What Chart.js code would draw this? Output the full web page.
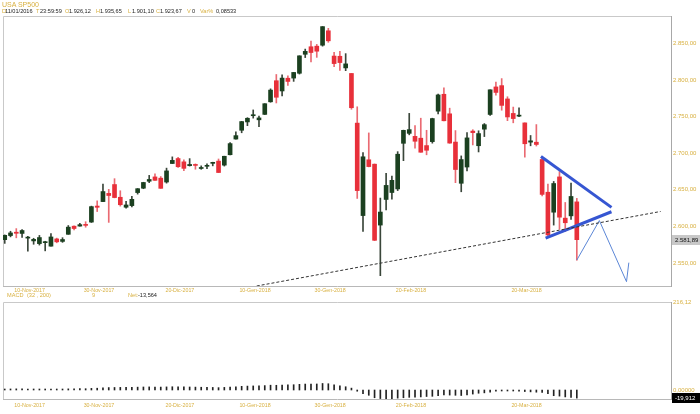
<!DOCTYPE html>
<html><head><meta charset="utf-8">
<script src="https://cdn.jsdelivr.net/npm/chart.js@4.4.1/dist/chart.umd.min.js"></script>
<style>
html,body{margin:0;padding:0;background:#fff;width:700px;height:414px;overflow:hidden;font-family:"Liberation Sans",Arial,sans-serif;}
#w1{position:absolute;left:0;top:0;width:700px;height:300px;}
#w2{position:absolute;left:0;top:296px;width:700px;height:118px;}
.t{position:absolute;white-space:nowrap;font-size:5.6px;line-height:1;}
.g{color:#d8b040}.k{color:#222}
</style></head><body>
<div id="w1"><canvas id="c1" width="700" height="300"></canvas></div>
<div id="w2"><canvas id="c2" width="700" height="118"></canvas></div>
<div class="t g" style="left:2px;top:1px;font-size:7px">USA SP500</div>
<div class="t g" style="left:2px;top:9px">D</div><div class="t k" style="left:5px;top:9px">11/01/2016</div>
<div class="t g" style="left:36px;top:9px">T</div><div class="t k" style="left:40px;top:9px">23:59:59</div>
<div class="t g" style="left:65px;top:9px">O</div><div class="t k" style="left:69px;top:9px">1.926,12</div>
<div class="t g" style="left:96px;top:9px">H</div><div class="t k" style="left:100px;top:9px">1.935,65</div>
<div class="t g" style="left:128px;top:9px">L</div><div class="t k" style="left:132px;top:9px">1.901,10</div>
<div class="t g" style="left:156px;top:9px">C</div><div class="t k" style="left:160px;top:9px">1.923,67</div>
<div class="t g" style="left:187px;top:9px">V</div><div class="t k" style="left:192px;top:9px">0</div>
<div class="t g" style="left:200px;top:9px">Var%</div><div class="t k" style="left:216px;top:9px">0,08533</div>
<div class="t g" style="left:7px;top:293px">MACD</div>
<div class="t g" style="left:27px;top:293px">(32 , 200)</div>
<div class="t g" style="left:92px;top:293px">9</div>
<div class="t g" style="left:128px;top:293px">Net:</div>
<div class="t k" style="left:138px;top:293px">-13,564</div>
<script>
const dates = ['03-Nov-2017','06-Nov-2017','07-Nov-2017','08-Nov-2017','09-Nov-2017','10-Nov-2017','13-Nov-2017','14-Nov-2017','16-Nov-2017','17-Nov-2017','20-Nov-2017','21-Nov-2017','22-Nov-2017','24-Nov-2017','27-Nov-2017','28-Nov-2017','29-Nov-2017','30-Nov-2017',
'01-Dic-2017','04-Dic-2017','05-Dic-2017','06-Dic-2017','07-Dic-2017','08-Dic-2017','11-Dic-2017','12-Dic-2017','13-Dic-2017','14-Dic-2017','15-Dic-2017','18-Dic-2017','19-Dic-2017','20-Dic-2017','21-Dic-2017','22-Dic-2017','26-Dic-2017','27-Dic-2017','28-Dic-2017','29-Dic-2017',
'02-Gen-2018','03-Gen-2018','04-Gen-2018','05-Gen-2018','08-Gen-2018','09-Gen-2018','10-Gen-2018','11-Gen-2018','12-Gen-2018','16-Gen-2018','17-Gen-2018','18-Gen-2018','19-Gen-2018','22-Gen-2018','23-Gen-2018','24-Gen-2018','25-Gen-2018','26-Gen-2018','29-Gen-2018','30-Gen-2018','31-Gen-2018',
'01-Feb-2018','02-Feb-2018','05-Feb-2018','06-Feb-2018','07-Feb-2018','08-Feb-2018','09-Feb-2018','12-Feb-2018','13-Feb-2018','14-Feb-2018','15-Feb-2018','16-Feb-2018','20-Feb-2018','21-Feb-2018','22-Feb-2018','23-Feb-2018','26-Feb-2018','27-Feb-2018','28-Feb-2018',
'01-Mar-2018','02-Mar-2018','05-Mar-2018','06-Mar-2018','07-Mar-2018','08-Mar-2018','09-Mar-2018','12-Mar-2018','13-Mar-2018','14-Mar-2018','15-Mar-2018','16-Mar-2018','19-Mar-2018','20-Mar-2018','21-Mar-2018','22-Mar-2018','23-Mar-2018','26-Mar-2018','27-Mar-2018','28-Mar-2018','29-Mar-2018','02-Apr-2018'];

const open = [2581.9,2587.5,2592.1,2590.4,2584.0,2580.2,2576.5,2577.8,2573.0,2582.9,2579.5,2589.2,2600.3,2600.4,2602.7,2605.9,2627.8,2633.9,
2645.1,2657.2,2639.8,2626.2,2628.4,2646.2,2652.2,2661.7,2667.6,2665.9,2660.6,2685.9,2692.7,2688.2,2683.0,2684.2,2679.1,2682.1,2686.1,2689.2,
2683.7,2697.9,2719.3,2731.3,2742.7,2751.2,2745.6,2753.0,2770.2,2799.0,2785.0,2802.4,2802.6,2809.2,2835.1,2845.4,2846.2,2847.5,2867.2,2832.7,2832.4,
2816.5,2808.9,2741.1,2614.8,2691.0,2685.0,2601.8,2636.8,2646.3,2651.2,2713.5,2727.1,2723.0,2720.5,2710.4,2715.8,2757.4,2780.5,2753.8,
2715.2,2658.9,2681.1,2730.2,2710.2,2732.8,2752.9,2790.5,2792.3,2774.1,2754.3,2750.6,2741.4,2715.1,2715.0,2691.4,2646.7,2619.4,2667.6,2611.3,2614.4,2633.5];
const high = [2588.4,2593.4,2597.0,2595.5,2586.5,2583.8,2587.7,2579.7,2590.1,2584.0,2584.6,2601.2,2600.9,2604.2,2606.4,2627.7,2634.9,2657.7,
2650.6,2665.2,2648.7,2634.4,2641.0,2651.7,2660.3,2669.7,2671.9,2668.1,2679.6,2695.0,2694.4,2691.0,2692.6,2685.4,2682.7,2685.6,2687.7,2692.1,
2695.9,2714.4,2729.3,2743.5,2748.5,2759.1,2750.8,2767.6,2787.9,2807.5,2807.0,2805.8,2810.3,2833.0,2842.2,2853.0,2848.6,2872.9,2870.6,2837.8,2839.3,
2836.0,2808.9,2763.4,2701.0,2727.7,2685.3,2638.7,2672.6,2668.8,2702.1,2731.5,2754.4,2737.6,2747.8,2731.3,2747.8,2780.6,2789.2,2761.5,
2730.9,2696.3,2728.1,2732.1,2730.6,2740.5,2786.6,2797.0,2801.9,2777.1,2763.0,2761.9,2741.4,2724.2,2739.1,2695.7,2657.7,2661.4,2674.8,2632.7,2659.1,2638.3];
const low = [2576.8,2585.7,2584.4,2585.0,2566.3,2575.6,2574.5,2566.6,2573.0,2577.6,2578.2,2589.2,2595.2,2600.4,2598.9,2605.4,2620.3,2633.9,
2605.5,2639.0,2627.7,2624.8,2626.5,2644.1,2651.5,2659.8,2662.9,2652.0,2659.1,2685.9,2680.7,2676.1,2682.4,2678.1,2678.0,2678.9,2682.7,2673.6,
2682.4,2697.8,2719.1,2727.9,2737.6,2747.9,2736.1,2752.8,2769.6,2768.6,2778.4,2792.6,2798.1,2808.1,2830.6,2824.8,2830.9,2846.2,2851.5,2818.3,2813.0,
2812.7,2760.0,2638.2,2593.1,2681.3,2580.6,2532.7,2622.5,2637.1,2648.9,2689.8,2725.1,2706.8,2701.3,2697.8,2713.7,2753.8,2744.2,2713.5,
2659.7,2647.3,2675.8,2711.3,2701.7,2722.7,2751.5,2779.3,2758.7,2744.4,2741.5,2750.0,2694.6,2710.1,2709.8,2641.6,2585.9,2601.8,2596.1,2593.1,2609.7,2553.8];
const close = [2587.8,2591.1,2590.6,2594.4,2584.6,2582.3,2584.8,2578.9,2585.6,2578.9,2582.1,2599.0,2597.1,2602.4,2601.4,2627.0,2626.1,2647.6,
2642.2,2639.4,2629.6,2629.3,2637.0,2651.5,2660.0,2664.1,2662.9,2652.0,2675.8,2690.2,2681.5,2679.3,2684.6,2683.3,2680.5,2682.6,2687.5,2673.6,
2695.8,2713.1,2724.0,2743.2,2747.7,2751.3,2748.2,2767.6,2786.2,2776.4,2802.6,2798.0,2810.3,2833.0,2839.1,2837.5,2839.3,2872.9,2853.5,2822.4,2823.8,
2822.0,2762.1,2648.9,2695.1,2681.7,2581.0,2619.6,2656.0,2662.9,2698.6,2731.2,2732.2,2716.3,2701.3,2704.0,2747.3,2779.6,2744.3,2713.8,
2677.7,2691.3,2720.9,2728.1,2726.8,2739.0,2786.6,2783.0,2765.3,2749.5,2747.3,2752.0,2712.9,2716.9,2711.9,2643.7,2588.3,2658.6,2612.6,2605.0,2640.9,2581.9];

const macdHist = [2.4,2.6,2.8,2.6,2.4,2.5,2.3,2.0,2.4,2.3,2.3,2.8,3.0,3.2,3.2,4.0,4.4,
5.5,6.0,6.2,6.4,6.3,6.6,7.0,7.4,7.6,7.4,7.2,7.6,8.0,7.8,7.5,7.4,7.1,6.8,6.5,6.3,5.8,
6.4,7.2,8.0,9.0,9.6,10.0,10.0,10.8,11.8,11.6,12.2,12.4,13.0,14.0,14.6,14.8,14.8,16.0,15.4,12.6,10.2,8.0,4.6,
-3.0,-9.0,-13.0,-19.0,-21.0,-21.5,-21.0,-20.0,-19.0,-18.0,-17.5,-17.0,-16.0,-15.5,-14.0,-12.0,-12.5,-13.0,-13.5,-12.0,
-10.0,-8.0,-7.0,-5.5,-3.0,-2.0,-2.0,-2.5,-3.0,-3.8,-4.6,-5.4,-6.0,-9.0,-14.0,-15.0,-17.0,-18.5,-19.912];

const xTickDates = ['10-Nov-2017','30-Nov-2017','20-Dic-2017','10-Gen-2018','30-Gen-2018','20-Feb-2018','20-Mar-2018'];
const priceTicks = [2550,2600,2650,2700,2750,2800,2850];
const priceTickLabels = ['2.550,00','2.600,00','2.650,00','2.700,00','2.750,00','2.800,00','2.850,00'];
const lastPrice = 2581.89, lastPriceLabel = '2.581,89';
const macdTicks = [0, 216.12];
const macdTickLabels = ['0,00000','216,12'];
const macdLast = -19.912, macdLastLabel = '-19,912';

// hand-drawn studies (index, price)
const trendLine = [{x:43.6,y:2518.6},{x:113.5,y:2620.4}];
const triUpper = [{x:92.8,y:2695.5},{x:105.0,y:2626.0}];
const triLower = [{x:93.6,y:2584.0},{x:105.0,y:2620.0}];
const arrowPath = [{x:99.0,y:2554.0},{x:102.9,y:2608.0},{x:107.6,y:2524.5}];
const arrowHead = [{x:108.0,y:2550.5},{x:107.6,y:2524.5}];

const GOLD = '#d8b040', RED = '#e8303a', GREEN = '#1b4020';
const X_MIN = -0.3, X_MAX = 115.3;
const tickIdx = xTickDates.map(d => dates.indexOf(d));
const FONT = '"Liberation Sans", Arial, sans-serif';

const framePlugin = {
  id:'frame',
  beforeDatasetsDraw(chart){
    const {ctx, chartArea:a} = chart;
    ctx.save(); ctx.strokeStyle = '#c9c9c9'; ctx.lineWidth = 1;
    ctx.beginPath();
    ctx.moveTo(a.left+0.5, a.bottom); ctx.lineTo(a.left+0.5, a.top+0.5); ctx.lineTo(a.right, a.top+0.5);
    ctx.stroke(); ctx.restore();
  }
};
function markerPlugin(value, label, bg, fg){
  return {
    id:'marker'+label,
    afterDraw(chart){
      const s = chart.scales.y, ctx = chart.ctx;
      const y = Math.round(s.getPixelForValue(value));
      ctx.save();
      ctx.fillStyle = bg; ctx.fillRect(s.left+1, y-5, 28, 10);
      ctx.fillStyle = fg; ctx.font = '6px ' + FONT; ctx.textBaseline = 'middle';
      ctx.fillText(label, s.left+4, y+0.5);
      ctx.restore();
    }
  };
}
function xAxis(h, pad){
  return {
    type:'linear', min:X_MIN, max:X_MAX, offset:false,
    grid:{display:false, drawTicks:false},
    border:{display:true, color:'#b8b8b8'},
    afterBuildTicks: s => { s.ticks = tickIdx.map(v => ({value:v})); },
    afterFit: s => { s.height = h; },
    ticks:{ autoSkip:false, maxRotation:0, padding:pad, labelOffset:-4, color:GOLD, font:{size:5.3, family:FONT},
      callback: v => xTickDates[tickIdx.indexOf(v)] }
  };
}
function yAxis(min, max, tv, tl){
  return {
    position:'right', min, max,
    grid:{display:false, drawTicks:false},
    border:{display:true, color:'#a8a8a8'},
    afterBuildTicks: s => { s.ticks = tv.map(v => ({value:v})); },
    afterFit: s => { s.width = 29; },
    ticks:{ autoSkip:false, padding:2, color:GOLD, font:{size:6, family:FONT},
      callback: v => tl[tv.indexOf(v)] }
  };
}
const lineDs = (data, color, width, dash, order) => ({type:'line', data, borderColor:color, borderWidth:width,
  borderDash:dash, pointRadius:0, fill:false, tension:0, order});

new Chart(document.getElementById('c1'), {
  type:'bar',
  data:{ datasets:[
    lineDs(trendLine, '#333', 1, [3,2], 0),
    lineDs(triUpper, '#3656d2', 3, [], 0),
    lineDs(triLower, '#3656d2', 3, [], 0),
    lineDs(arrowPath, '#5b86d6', 1, [], 0),
    lineDs(arrowHead, '#5b86d6', 1, [], 0),
    { label:'body', order:1, grouped:false, barThickness:4, minBarLength:1, borderWidth:0,
      data: dates.map((d,i) => ({x:i, y:[Math.min(open[i],close[i]), Math.max(open[i],close[i])]})),
      backgroundColor: dates.map((d,i) => close[i] < open[i] ? RED : GREEN) },
    { label:'wick', order:2, grouped:false, barThickness:1, borderWidth:0,
      data: dates.map((d,i) => ({x:i, y:[low[i], high[i]]})),
      backgroundColor: dates.map((d,i) => close[i] < open[i] ? '#ea6a72' : '#3a463a') }
  ]},
  options:{
    responsive:false, animation:false, events:[],
    layout:{padding:{left:3, top:16, right:0, bottom:0}},
    plugins:{legend:{display:false}, tooltip:{enabled:false}},
    scales:{ x:xAxis(14, 1), y:yAxis(2518.6, 2887.4, priceTicks, priceTickLabels) }
  },
  plugins:[framePlugin, markerPlugin(lastPrice, lastPriceLabel, '#c8c8c8', '#111')]
});

new Chart(document.getElementById('c2'), {
  type:'bar',
  data:{ datasets:[
    { label:'macd', grouped:false, barThickness:1, borderWidth:0, minBarLength:1,
      data: dates.map((d,i) => ({x:i, y:macdHist[i]})), backgroundColor:'#222' }
  ]},
  options:{
    responsive:false, animation:false, events:[],
    layout:{padding:{left:3, top:6, right:0, bottom:0}},
    plugins:{legend:{display:false}, tooltip:{enabled:false}},
    scales:{ x:xAxis(15, 3), y:yAxis(-22.1, 216.12, macdTicks, macdTickLabels) }
  },
  plugins:[framePlugin, markerPlugin(macdLast, macdLastLabel, '#000', '#fff')]
});
</script>
</body></html>
